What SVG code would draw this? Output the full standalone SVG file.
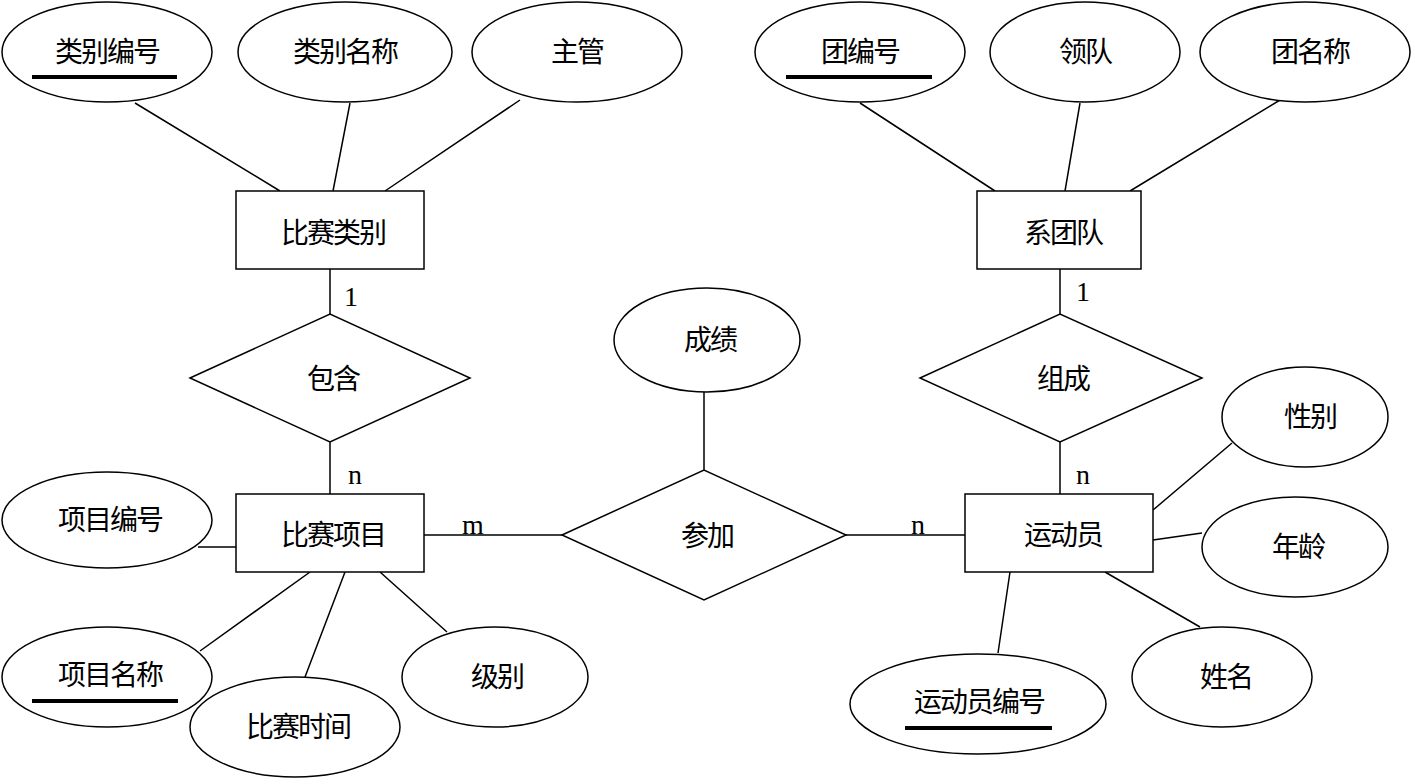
<svg xmlns="http://www.w3.org/2000/svg" width="1415" height="784" viewBox="0 0 1415 784">
<style>
.s{fill:#fff;stroke:#000;stroke-width:1.5}
.l{stroke:#000;stroke-width:1.5;fill:none}
.u{stroke:#000;stroke-width:4}
text{font-family:"Noto Sans CJK SC","Liberation Sans",sans-serif;font-size:28px;text-anchor:middle;dominant-baseline:central;fill:#000;letter-spacing:-2px}
.c{font-family:"Liberation Serif",serif;font-size:28px;letter-spacing:0}
</style>
<rect width="1415" height="784" fill="#fff"/>
<g id="connectors">
<path class="l" d="M135,103L280,191M350,103L333,191M520,100L385,191M860,103L995,191M1080,103L1065,191M1280,100L1130,191M330,269V314M330,442V494M1060,269V314M1060,442V494M424,535H562M846,535H965M704,392V470M198,547H236M200,651L310,572M305,677L345,572M447,632L380,572M1232,443L1153,510M1202,533L1153,540M1200,627L1105,572M998,653L1010,572"/>
<text class="c" x="351" y="296">1</text><text class="c" x="355" y="474">n</text>
<text class="c" x="1083" y="291">1</text><text class="c" x="1083" y="474">n</text>
<text class="c" x="473" y="524">m</text><text class="c" x="918" y="524">n</text>
</g>
<g id="n1"><ellipse class="s" cx="107" cy="52" rx="105" ry="50"/><text x="107" y="50">类别编号</text><line class="u" x1="32" y1="77" x2="177" y2="77"/></g>
<g id="n2"><ellipse class="s" cx="345" cy="52" rx="107" ry="50"/><text x="345" y="50">类别名称</text></g>
<g id="n3"><ellipse class="s" cx="577" cy="52" rx="105" ry="50"/><text x="577" y="50">主管</text></g>
<g id="n4"><ellipse class="s" cx="860" cy="52" rx="105" ry="50"/><text x="860" y="50">团编号</text><line class="u" x1="786" y1="77" x2="932" y2="77"/></g>
<g id="n5"><ellipse class="s" cx="1085" cy="52" rx="95" ry="50"/><text x="1085" y="50">领队</text></g>
<g id="n6"><ellipse class="s" cx="1305" cy="52" rx="105" ry="50"/><text x="1310" y="50">团名称</text></g>
<g id="n7"><rect class="s" x="236" y="191" width="188" height="78"/><text x="333" y="231">比赛类别</text></g>
<g id="n8"><rect class="s" x="977" y="191" width="164" height="78"/><text x="1063" y="231">系团队</text></g>
<g id="n9"><polygon class="s" points="190,378 330,314 470,378 330,442"/><text x="333" y="377">包含</text></g>
<g id="n10"><polygon class="s" points="920,378 1060,314 1202,378 1060,442"/><text x="1063" y="377">组成</text></g>
<g id="n11"><ellipse class="s" cx="707" cy="340" rx="93" ry="52"/><text x="710" y="338">成绩</text></g>
<g id="n12"><rect class="s" x="236" y="494" width="188" height="78"/><text x="333" y="533">比赛项目</text></g>
<g id="n13"><rect class="s" x="965" y="494" width="188" height="78"/><text x="1063" y="533">运动员</text></g>
<g id="n14"><polygon class="s" points="562,535 704,470 846,535 704,600"/><text x="707" y="534">参加</text></g>
<g id="n15"><ellipse class="s" cx="107" cy="520" rx="105" ry="48"/><text x="110" y="518">项目编号</text></g>
<g id="n16"><ellipse class="s" cx="107" cy="677" rx="105" ry="50"/><text x="110" y="673">项目名称</text><line class="u" x1="32" y1="701" x2="178" y2="701"/></g>
<g id="n17"><ellipse class="s" cx="295" cy="727" rx="105" ry="50"/><text x="298" y="725">比赛时间</text></g>
<g id="n18"><ellipse class="s" cx="495" cy="677" rx="93" ry="50"/><text x="497" y="675">级别</text></g>
<g id="n19"><ellipse class="s" cx="1305" cy="417" rx="83" ry="50"/><text x="1310" y="415">性别</text></g>
<g id="n20"><ellipse class="s" cx="1295" cy="547" rx="93" ry="50"/><text x="1298" y="545">年龄</text></g>
<g id="n21"><ellipse class="s" cx="1222" cy="677" rx="90" ry="50"/><text x="1226" y="675">姓名</text></g>
<g id="n22"><ellipse class="s" cx="978" cy="704" rx="128" ry="50"/><text x="979" y="700">运动员编号</text><line class="u" x1="905" y1="728" x2="1052" y2="728"/></g>
</svg>
